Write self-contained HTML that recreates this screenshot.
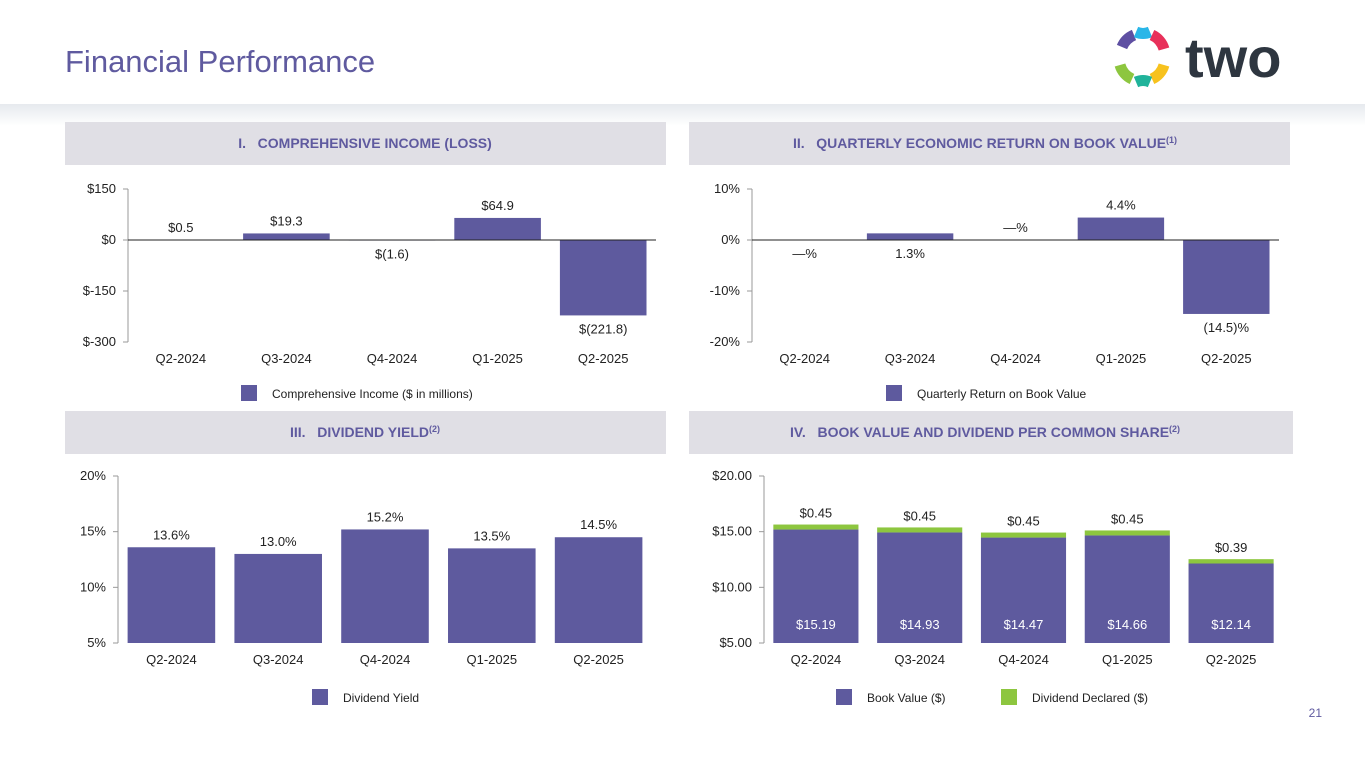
<!DOCTYPE html>
<html><head><meta charset="utf-8">
<style>
body{margin:0;width:1365px;height:768px;overflow:hidden;background:#fff;font-family:"Liberation Sans",sans-serif;}
svg text{font-family:"Liberation Sans",sans-serif;}
</style></head>
<body>
<svg id="s" width="1365" height="768" viewBox="0 0 1365 768">
<defs><linearGradient id="band" x1="0" y1="0" x2="0" y2="1"><stop offset="0" stop-color="#e6e9ee"/><stop offset="1" stop-color="#ffffff"/></linearGradient></defs>
<rect x="0" y="104" width="1365" height="22" fill="url(#band)"/>
<text x="65" y="72" font-size="31" fill="#5f5a9f">Financial Performance</text>
<g>
<g transform="translate(1142,57)" stroke-width="11" fill="none" stroke-linecap="butt">
<path d="M-20,-10 A22,22 0 0 1 -8,-22" stroke="#5e4fa2"/>
<path d="M-6,-25 A18,18 0 0 0 8,-25" stroke="#29b6e8"/>
<path d="M10,-22 A22,22 0 0 1 22,-8" stroke="#e8305a"/>
<path d="M22,8 A22,22 0 0 1 10,22" stroke="#f7c21e"/>
<path d="M8,25 A18,18 0 0 0 -6,25" stroke="#20b39a"/>
<path d="M-10,22 A22,22 0 0 1 -22,8" stroke="#8dc63f"/>
</g>
<text x="1185" y="77" font-size="56" font-weight="bold" fill="#2e3640">two</text>
</g>
<rect x="65" y="122" width="601" height="43" fill="#e0dfe5"/>
<text x="365" y="148" font-size="14" font-weight="bold" fill="#5f5a9f" text-anchor="middle">I.&#160;&#160;&#160;COMPREHENSIVE INCOME (LOSS)</text>
<rect x="689" y="122" width="601" height="43" fill="#e0dfe5"/>
<text x="985" y="148" font-size="14" font-weight="bold" fill="#5f5a9f" text-anchor="middle">II.&#160;&#160;&#160;QUARTERLY ECONOMIC RETURN ON BOOK VALUE<tspan font-size="9" dy="-5">(1)</tspan></text>
<rect x="65" y="411" width="601" height="43" fill="#e0dfe5"/>
<text x="365" y="437" font-size="14" font-weight="bold" fill="#5f5a9f" text-anchor="middle">III.&#160;&#160;&#160;DIVIDEND YIELD<tspan font-size="9" dy="-5">(2)</tspan></text>
<rect x="689" y="411" width="604" height="43" fill="#e0dfe5"/>
<text x="985" y="437" font-size="14" font-weight="bold" fill="#5f5a9f" text-anchor="middle">IV.&#160;&#160;&#160;BOOK VALUE AND DIVIDEND PER COMMON SHARE<tspan font-size="9" dy="-5">(2)</tspan></text>
<text x="1322" y="717" font-size="12" fill="#5f5a9f" text-anchor="end">21</text>
</svg>
<script>
const categories = ["Q2-2024","Q3-2024","Q4-2024","Q1-2025","Q2-2025"];
const incomeValues = [0.5, 19.3, -1.6, 64.9, -221.8];
const incomeLabels = ["$0.5","$19.3","$(1.6)","$64.9","$(221.8)"];
const incomeTicks = [150, 0, -150, -300];
const incomeTickLabels = ["$150","$0","$-150","$-300"];
const returnValues = [0, 1.3, 0, 4.4, -14.5];
const returnLabels = ["—%","1.3%","—%","4.4%","(14.5)%"];
const returnLabelBelow = [true, true, false, false, true];
const returnTicks = [10, 0, -10, -20];
const returnTickLabels = ["10%","0%","-10%","-20%"];
const yieldValues = [13.6, 13.0, 15.2, 13.5, 14.5];
const yieldLabels = ["13.6%","13.0%","15.2%","13.5%","14.5%"];
const yieldTicks = [20, 15, 10, 5];
const yieldTickLabels = ["20%","15%","10%","5%"];
const bookValues = [15.19, 14.93, 14.47, 14.66, 12.14];
const dividendValues = [0.45, 0.45, 0.45, 0.45, 0.39];
const bookLabels = ["$15.19","$14.93","$14.47","$14.66","$12.14"];
const dividendLabels = ["$0.45","$0.45","$0.45","$0.45","$0.39"];
const bookTicks = [20, 15, 10, 5];
const bookTickLabels = ["$20.00","$15.00","$10.00","$5.00"];

const S = document.getElementById('s');
const NS = 'http://www.w3.org/2000/svg';
const PURPLE = '#5e5a9e', GREEN = '#8dc63f';
function mk(tag, attrs, name, txt){
  const e = document.createElementNS(NS, tag);
  for (const k in attrs) e.setAttribute(k, attrs[k]);
  
  
  if (txt !== undefined) e.textContent = txt;
  S.appendChild(e); return e;
}
function chart(cfg){
  const y = v => cfg.y0 + (cfg.vmax - v) / (cfg.vmax - cfg.vmin) * (cfg.y1 - cfg.y0);
  const step = (cfg.xr - cfg.xl) / categories.length;
  const cx = i => cfg.xl + step * (i + 0.5);
  mk('line', {x1:cfg.xl, y1:cfg.y0, x2:cfg.xl, y2:cfg.y1, stroke:'#999', 'stroke-width':1}, cfg.id+'-y-axis');
  cfg.ticks.forEach((t, i) => {
    mk('line', {x1:cfg.xl-5, y1:y(t), x2:cfg.xl, y2:y(t), stroke:'#999'}, cfg.id+'-y-tick');
    mk('text', {x:cfg.xl-12, y:y(t)+4, 'font-size':13, fill:'#222', 'text-anchor':'end'}, cfg.id+'-y-tick-label', cfg.tickLabels[i]);
  });
  categories.forEach((c, i) => {
    mk('text', {x:cx(i), y:cfg.y1+21, 'font-size':13, fill:'#222', 'text-anchor':'middle'}, cfg.id+'-x-label', c);
  });
  const bw = step * 0.82;
  const base = cfg.base;
  cfg.values.forEach((v, i) => {
    const top = Math.min(y(v), y(base)), h = Math.abs(y(v) - y(base));
    mk('rect', {x:cx(i)-bw/2, y:top, width:bw, height:h, fill:PURPLE}, cfg.id+'-bar-'+i);
    if (cfg.stack) {
      const s = cfg.stack[i];
      mk('rect', {x:cx(i)-bw/2, y:y(v+s), width:bw, height:y(v)-y(v+s), fill:GREEN}, cfg.id+'-dividend-bar-'+i);
      mk('text', {x:cx(i), y:y(v+s)-7, 'font-size':13, fill:'#222', 'text-anchor':'middle'}, cfg.id+'-dividend-label', cfg.stackLabels[i]);
      mk('text', {x:cx(i), y:y(6.6)+4, 'font-size':13, fill:'#fff', 'text-anchor':'middle'}, cfg.id+'-value-label', cfg.labels[i]);
    } else {
      const below = cfg.below ? cfg.below[i] : v < base;
      const ly = below ? Math.max(y(v), y(base)) + 18 : Math.min(y(v), y(base)) - 8;
      mk('text', {x:cx(i), y:ly, 'font-size':13, fill:'#222', 'text-anchor':'middle'}, cfg.id+'-value-label', cfg.labels[i]);
    }
  });
  if (cfg.zero) mk('line', {x1:cfg.xl, y1:y(0), x2:cfg.xr, y2:y(0), stroke:'#222'}, cfg.id+'-zero-line');
  cfg.legend.forEach((l, i) => {
    mk('rect', {x:l.x, y:cfg.ly-8, width:16, height:16, fill:l.c}, cfg.id+'-legend-swatch');
    mk('text', {x:l.x+31, y:cfg.ly+5, 'font-size':12, fill:'#222'}, cfg.id+'-legend-label', l.t);
  });
}
chart({id:'income', xl:128, xr:656, y0:189, y1:342, vmax:150, vmin:-300, base:0, zero:true,
  values:incomeValues, labels:incomeLabels, ticks:incomeTicks, tickLabels:incomeTickLabels,
  ly:393, legend:[{x:241, c:PURPLE, t:'Comprehensive Income ($ in millions)'}]});
chart({id:'return', xl:752, xr:1279, y0:189, y1:342, vmax:10, vmin:-20, base:0, zero:true,
  values:returnValues, labels:returnLabels, below:returnLabelBelow, ticks:returnTicks, tickLabels:returnTickLabels,
  ly:393, legend:[{x:886, c:PURPLE, t:'Quarterly Return on Book Value'}]});
chart({id:'yield', xl:118, xr:652, y0:476, y1:643, vmax:20, vmin:5, base:5,
  values:yieldValues, labels:yieldLabels, ticks:yieldTicks, tickLabels:yieldTickLabels,
  ly:697, legend:[{x:312, c:PURPLE, t:'Dividend Yield'}]});
chart({id:'book', xl:764, xr:1283, y0:476, y1:643, vmax:20, vmin:5, base:5,
  values:bookValues, labels:bookLabels, stack:dividendValues, stackLabels:dividendLabels,
  ticks:bookTicks, tickLabels:bookTickLabels,
  ly:697, legend:[{x:836, c:PURPLE, t:'Book Value ($)'},{x:1001, c:GREEN, t:'Dividend Declared ($)'}]});
</script>
</body></html>
